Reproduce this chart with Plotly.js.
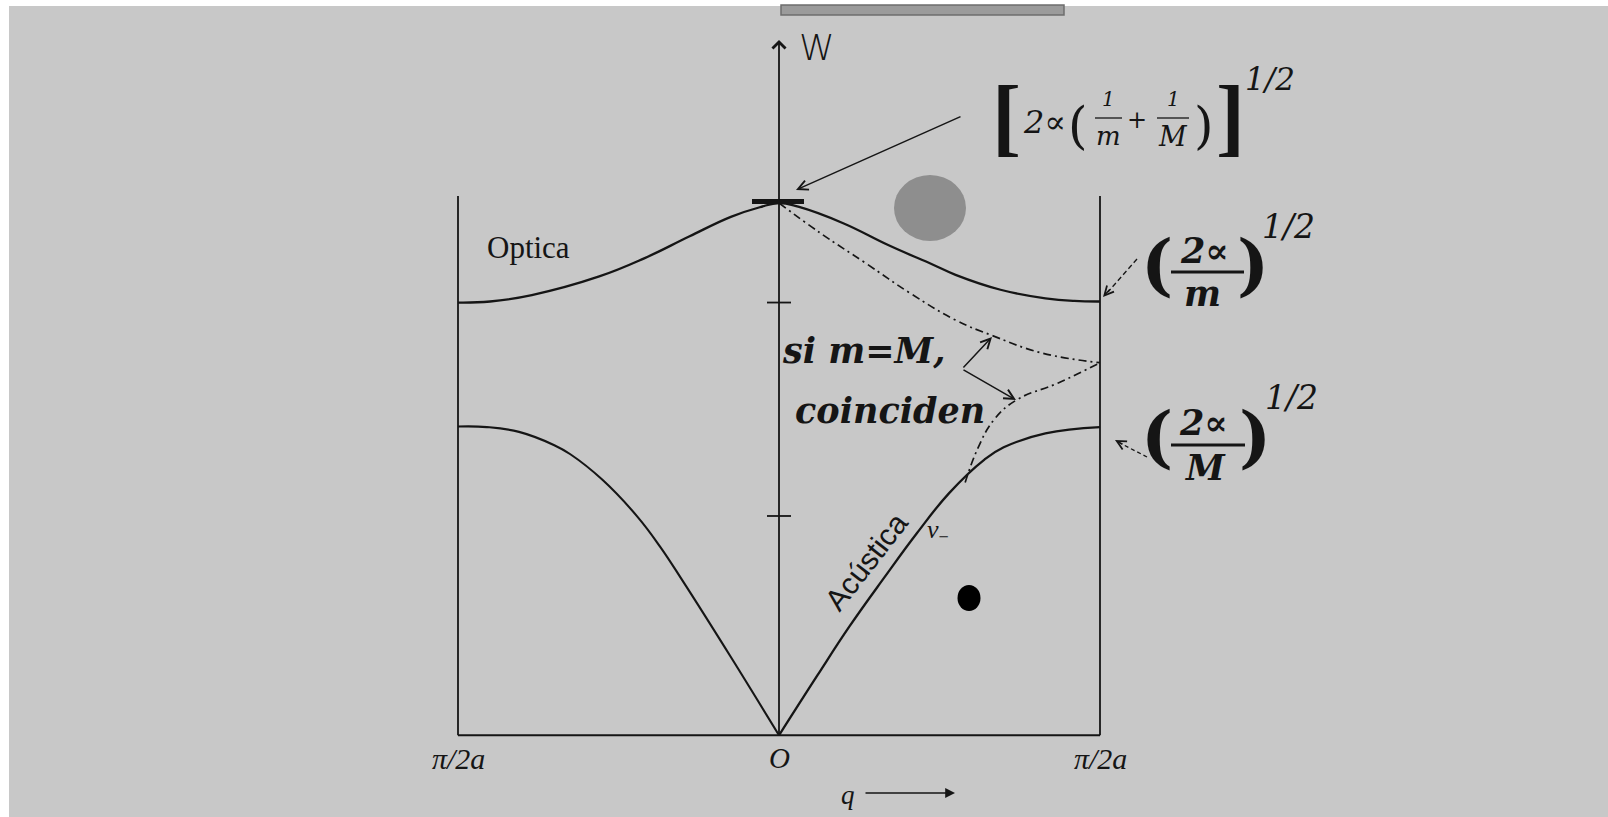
<!DOCTYPE html>
<html>
<head>
<meta charset="utf-8">
<script src="https://cdn.plot.ly/plotly-3.0.1.min.js"></script>
<style>
  html, body { margin: 0; padding: 0; background: #ffffff; }
  #chart { width: 1608px; height: 817px; }
</style>
</head>
<body>
<div id="chart"></div>
<script>
// Diatomic chain dispersion: q runs from -π/2a (-1) to +π/2a (+1),
// ω is scaled so that the optical maximum at q = 0 equals 1.

// Optical branch
const qOptica = [-1.0, -0.9, -0.77, -0.56, -0.42, -0.28, -0.15, -0.06, 0, 0.06, 0.2, 0.34, 0.48, 0.55, 0.69, 0.83, 0.92, 1.0];
const wOptica = [0.813, 0.815, 0.827, 0.862, 0.896, 0.937, 0.974, 0.992, 1.0, 0.993, 0.962, 0.921, 0.884, 0.865, 0.837, 0.821, 0.816, 0.815];

// Acoustic branch, left and right of the origin
const qAcusticaIzq = [-1.0, -0.91, -0.81, -0.70, -0.65, -0.55, -0.44, -0.37, -0.30, -0.15, 0];
const wAcusticaIzq = [0.580, 0.579, 0.570, 0.545, 0.528, 0.480, 0.410, 0.354, 0.290, 0.147, 0];
const qAcusticaDer = [0, 0.12, 0.22, 0.33, 0.43, 0.53, 0.64, 0.70, 0.83, 1.0];
const wAcusticaDer = [0, 0.113, 0.205, 0.298, 0.380, 0.455, 0.518, 0.541, 0.567, 0.579];

// Case m = M: both branches meet at the zone edge
const qIgualSup = [0, 0.13, 0.27, 0.41, 0.55, 0.66, 0.82, 1.0];
const wIgualSup = [1.0, 0.943, 0.887, 0.830, 0.780, 0.752, 0.718, 0.700];
const qIgualInf = [0.58, 0.62, 0.67, 0.74, 0.87, 1.0];
const wIgualInf = [0.475, 0.54, 0.593, 0.630, 0.662, 0.700];

// Tick marks on the ω axis and the labels on the q axis
const wMarcas = [0.813, 0.412];
const qEtiquetas = [-1, 0, 1];
const textoEtiquetas = ['π/2a', 'O', 'π/2a'];

// ---- page geometry (pixel <-> data) ----
const W = 1608, H = 817;
const X0 = 779, SX = 321;      // column of q = 0, pixels per unit q
const Y0 = 735.3, SY = 532.3;  // row of ω = 0, pixels per unit ω
const qx = p => (p - X0) / SX;
const wy = p => (Y0 - p) / SY;

const INK = '#151515';
const SERIF = 'Liberation Serif, Times New Roman, serif';
const MATH = 'DejaVu Serif, serif';
const SANS = 'Liberation Sans, Arial, sans-serif';

const lineTrace = (x, y, width, dash) => ({
  type: 'scatter', mode: 'lines', x: x, y: y,
  line: { color: INK, width: width, shape: 'spline', smoothing: 1.2, dash: dash || 'solid' },
  hoverinfo: 'skip', showlegend: false
});

const data = [
  lineTrace(qOptica, wOptica, 2.3),
  lineTrace(qAcusticaIzq, wAcusticaIzq, 2.1),
  lineTrace(qAcusticaDer, wAcusticaDer, 2.3),
  lineTrace(qIgualSup, wIgualSup, 1.7, '8px,4px,2px,4px'),
  lineTrace(qIgualInf, wIgualInf, 1.7, '8px,4px,2px,4px')
];

const wTop = wy(196);   // top of the zone-edge lines
const shapes = [];
// paper and printed frame
shapes.push({ type: 'rect', xref: 'paper', yref: 'paper', x0: 9 / W, x1: 1, y0: 0, y1: 1 - 6 / H,
  fillcolor: '#c8c8c8', line: { width: 0 }, layer: 'below' });
shapes.push({ type: 'rect', x0: qx(781), x1: qx(1064), y0: wy(15), y1: wy(5),
  fillcolor: '#9b9b9b', line: { color: '#6e6e6e', width: 1.5 }, layer: 'below' });
// zone-edge verticals and the q axis
qEtiquetas.filter(q => q !== 0).forEach(q => {
  shapes.push({ type: 'line', x0: q, x1: q, y0: 0, y1: wTop, line: { color: INK, width: 1.8 } });
});
shapes.push({ type: 'line', x0: -1, x1: 1, y0: 0, y1: 0, line: { color: INK, width: 2 } });
// marks on the ω axis
wMarcas.forEach(w => {
  shapes.push({ type: 'line', x0: qx(767), x1: qx(791), y0: w, y1: w, line: { color: INK, width: 1.8 } });
});
// bold bar at the optical maximum
shapes.push({ type: 'line', x0: qx(752), x1: qx(804), y0: wOptica[8] + 0.003, y1: wOptica[8] + 0.003,
  line: { color: INK, width: 5 } });
// grey and black blots
shapes.push({ type: 'circle', x0: qx(894), x1: qx(966), y0: wy(241), y1: wy(175),
  fillcolor: '#8e8e8e', line: { width: 0 } });
shapes.push({ type: 'circle', x0: qx(957.5), x1: qx(980.5), y0: wy(611), y1: wy(585),
  fillcolor: '#000000', line: { width: 0 } });
// dashed leaders towards the zone-edge frequencies
shapes.push({ type: 'line', x0: qx(1137), y0: wy(259), x1: qx(1108), y1: wy(292),
  line: { color: INK, width: 1.3, dash: '5px,3px' } });
shapes.push({ type: 'line', x0: qx(1147), y0: wy(457), x1: qx(1120), y1: wy(443),
  line: { color: INK, width: 1.3, dash: '4px,3px' } });
// fraction bars
const bar = (xa, xb, y, w) => shapes.push({ type: 'line', x0: qx(xa), x1: qx(xb), y0: wy(y), y1: wy(y),
  line: { color: INK, width: w } });
bar(1095, 1122, 118, 1.3);
bar(1157, 1189, 118, 1.3);
bar(1171, 1244, 272, 2.8);
bar(1171, 1245, 445, 2.8);

const annotations = [];
const font = (family, size, weight) => ({ family: family, size: size, color: INK, weight: weight || 'normal' });
const txt = (x, y, text, f, extra) => annotations.push(Object.assign({
  x: qx(x), y: wy(y), text: text, showarrow: false, font: f,
  xanchor: 'center', yanchor: 'middle'
}, extra || {}));
const arrow = (xh, yh, xt, yt, head, size, width) => annotations.push({
  x: qx(xh), y: wy(yh), ax: qx(xt), ay: wy(yt), axref: 'x', ayref: 'y', text: '',
  showarrow: true, arrowhead: head, arrowsize: size, arrowwidth: width, arrowcolor: INK
});

// ω axis with arrow
annotations.push({ x: 0, y: wy(40), ax: 0, ay: 0, axref: 'x', ayref: 'y', text: '', showarrow: true,
  arrowhead: 4, arrowsize: 1.4, arrowwidth: 1.8, arrowcolor: INK });
txt(817, 47, 'W', font('DejaVu Sans, sans-serif', 36, 200));

// branch labels
txt(528, 247, 'Optica', font(SERIF, 31));
txt(866, 561, 'Acústica', font(SANS, 30), { textangle: -52 });
txt(938, 531, '<i>ν</i><sub>−</sub>', font(SERIF, 26));
txt(780, 350, '<i>si m=M,</i>', font(MATH, 35, 'bold'), { xanchor: 'left' });
txt(793, 410, '<i>coinciden</i>', font(MATH, 35, 'bold'), { xanchor: 'left' });
arrow(992, 337, 962, 369, 5, 1.3, 1.5);
arrow(1016, 400, 962, 369, 5, 1.3, 1.5);

// q axis labels
qEtiquetas.forEach((q, i) => {
  annotations.push({ x: q, y: wy(758), text: '<i>' + textoEtiquetas[i] + '</i>', showarrow: false,
    font: font(SERIF, i === 1 ? 29 : 30), xanchor: 'center', yanchor: 'middle' });
});
txt(848, 795, '<i>q</i>', font(SERIF, 27));
arrow(955, 793, 864, 793, 2, 1.4, 1.4);

// [2α(1/m + 1/M)]^1/2
arrow(796, 190, 962, 116, 5, 1.3, 1.5);
txt(1006, 115, '[', font(SERIF, 87, 'bold'));
txt(1044, 122, '<i>2∝</i>', font(MATH, 32));
txt(1078, 126, '(', font(MATH, 50));
txt(1108, 99, '<i>1</i>', font(MATH, 20));
txt(1108, 136, '<i>m</i>', font(MATH, 26));
txt(1137, 120, '+', font(MATH, 24));
txt(1173, 99, '<i>1</i>', font(MATH, 20));
txt(1173, 136, '<i>M</i>', font(MATH, 27));
txt(1204, 126, ')', font(MATH, 50));
txt(1230, 115, ']', font(SERIF, 87, 'bold'));
txt(1270, 79, '<i>1/2</i>', font(MATH, 31));

// (2α/m)^1/2
arrow(1103, 297, 1111, 288, 5, 1.3, 1.4);
txt(1157, 264, '(', font(MATH, 68, 'bold'));
txt(1204, 250, '<i>2∝</i>', font(MATH, 35, 'bold'));
txt(1202, 293, '<i>m</i>', font(MATH, 35, 'bold'));
txt(1253, 264, ')', font(MATH, 68, 'bold'));
txt(1288, 226, '<i>1/2</i>', font(MATH, 33));

// (2α/M)^1/2
arrow(1115, 440, 1124, 445, 5, 1.3, 1.4);
txt(1157, 436, '(', font(MATH, 68, 'bold'));
txt(1203, 422, '<i>2∝</i>', font(MATH, 35, 'bold'));
txt(1205, 467, '<i>M</i>', font(MATH, 35, 'bold'));
txt(1255, 436, ')', font(MATH, 68, 'bold'));
txt(1291, 397, '<i>1/2</i>', font(MATH, 33));

const layout = {
  width: W, height: H,
  margin: { l: 0, r: 0, t: 0, b: 0, pad: 0 },
  paper_bgcolor: '#ffffff', plot_bgcolor: 'rgba(0,0,0,0)',
  xaxis: { range: [qx(0), qx(W)], visible: false, fixedrange: true },
  yaxis: { range: [wy(H), wy(0)], visible: false, fixedrange: true },
  shapes: shapes, annotations: annotations, showlegend: false
};

Plotly.newPlot('chart', data, layout, { staticPlot: true, displayModeBar: false });
</script>
</body>
</html>
